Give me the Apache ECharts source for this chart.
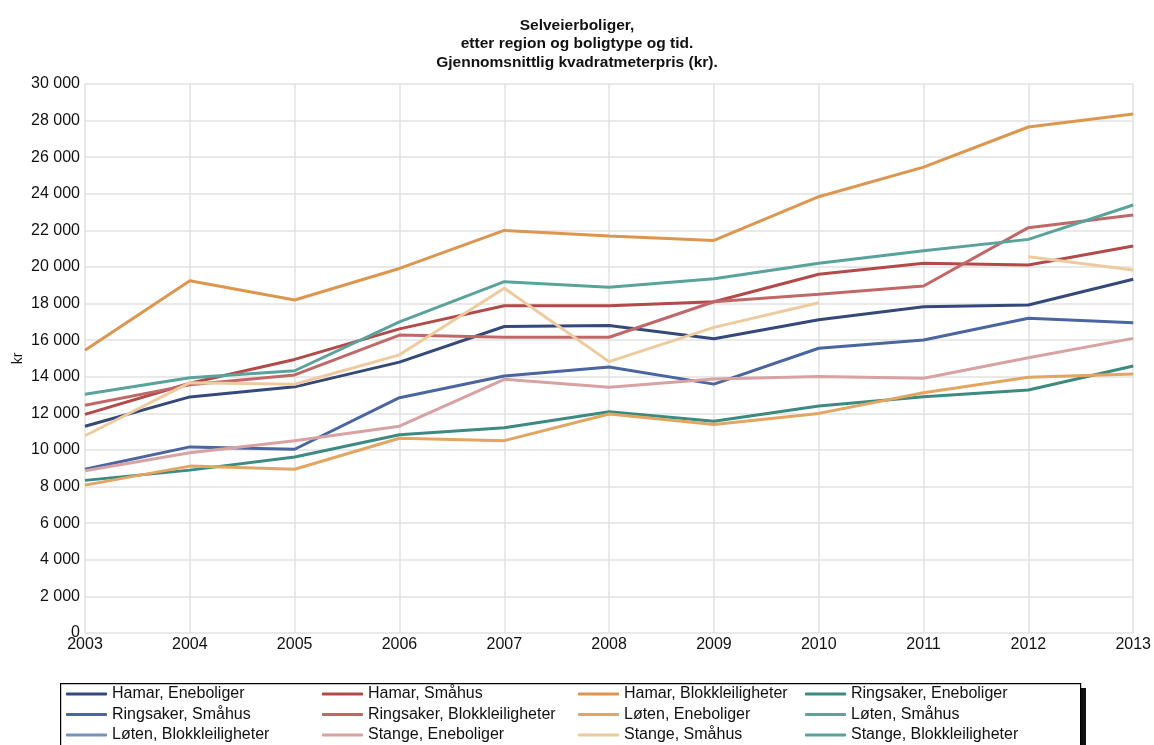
<!DOCTYPE html>
<html>
<head>
<meta charset="utf-8">
<script src="https://cdn.jsdelivr.net/npm/echarts@6/dist/echarts.min.js"></script>
<style>
  html, body { margin: 0; padding: 0; background: #fff; }
  #chart { width: 1154px; height: 745px; }
</style>
</head>
<body>
<div id="chart"></div>
<script>
// Selveierboliger — gjennomsnittlig kvadratmeterpris (kr), 2003–2013
const years = ["2003", "2004", "2005", "2006", "2007", "2008", "2009", "2010", "2011", "2012", "2013"];

const hamarEne   = [11300, 12900, 13450, 14800, 16750, 16800, 16080, 17120, 17830, 17920, 19330];
const hamarSma   = [11950, 13650, 14950, 16620, 17880, 17880, 18100, 19600, 20200, 20110, 21150];
const hamarBlokk = [15450, 19250, 18200, 19920, 22000, 21700, 21450, 23840, 25460, 27650, 28360];
const ringEne    = [8340, 8900, 9620, 10830, 11220, 12090, 11570, 12400, 12910, 13280, 14590];
const ringSma    = [8950, 10170, 10040, 12860, 14040, 14540, 13600, 15560, 16010, 17200, 16960];
const ringBlokk  = [12450, 13560, 14100, 16280, 16160, 16160, 18100, 18510, 18960, 22150, 22840];
const lotenEne   = [8080, 9120, 8950, 10640, 10510, 11970, 11390, 12000, 13130, 13970, 14150];
const lotenSma   = [null, null, null, null, null, null, null, null, null, null, null];
const lotenBlokk = [null, null, null, null, null, null, null, null, null, null, null];
const stangeEne  = [8870, 9850, 10500, 11300, 13860, 13430, 13880, 14010, 13920, 15040, 16100];
const stangeSma  = [10780, 13680, 13590, 15200, 18840, 14830, 16700, 18050, null, 20560, 19840];
const stangeBlokk= [13050, 13950, 14330, 17000, 19200, 18890, 19360, 20200, 20890, 21510, 23390];

const names = [
  "Hamar, Eneboliger", "Hamar, Småhus", "Hamar, Blokkleiligheter", "Ringsaker, Eneboliger",
  "Ringsaker, Småhus", "Ringsaker, Blokkleiligheter", "Løten, Eneboliger", "Løten, Småhus",
  "Løten, Blokkleiligheter", "Stange, Eneboliger", "Stange, Småhus", "Stange, Blokkleiligheter"
];
const values = [hamarEne, hamarSma, hamarBlokk, ringEne, ringSma, ringBlokk,
                lotenEne, lotenSma, lotenBlokk, stangeEne, stangeSma, stangeBlokk];
const colors = ["#34497a", "#b24a4a", "#dc9650", "#3d8a80", "#4a65a0", "#c06868",
                "#e2a562", "#5ca49a", "#7790bc", "#d8a2a2", "#eecb9f", "#5aa39a"];

const FONT = "Liberation Sans, Arial, sans-serif";
const fmt = v => String(v).replace(/\B(?=(\d{3})+(?!\d))/g, " ");

const chart = echarts.init(document.getElementById("chart"), null, { renderer: "canvas" });

// 4 kolonner i legenden, 3 rader hver (radvis rekkefølge)
const legendCols = [66, 322, 578, 805];
const legends = legendCols.map((x, c) => ({
  orient: "vertical",
  left: x, top: 686,
  padding: 0,
  itemWidth: 41, itemHeight: 3, itemGap: 4.5,
  icon: "roundRect",
  data: [0, 1, 2].map(r => names[r * 4 + c]),
  textStyle: { fontFamily: FONT, fontSize: 16, color: "#111", lineHeight: 16 },
  selectedMode: false
}));

chart.setOption({
  animation: false,
  color: colors,
  title: {
    text: "Selveierboliger,\netter region og boligtype og tid.\nGjennomsnittlig kvadratmeterpris (kr).",
    left: "center", top: 11,
    textStyle: { fontFamily: FONT, fontSize: 15.5, fontWeight: "bold", color: "#111", lineHeight: 18.5 }
  },
  graphic: [
    { // skygge
      type: "rect", left: 65, top: 688, z: -2, silent: true,
      shape: { width: 1021, height: 70 },
      style: { fill: "#111" }
    },
    {
      type: "rect", left: 60, top: 683, z: -1, silent: true,
      shape: { width: 1020, height: 70 },
      style: { fill: "#fff", stroke: "#000", lineWidth: 1.2 }
    }
  ],
  legend: legends,
  grid: { left: 85, right: 20, top: 84, bottom: 112, containLabel: false },
  xAxis: {
    type: "category", data: years, boundaryGap: false,
    axisLine: { show: false }, axisTick: { show: false },
    axisLabel: { fontFamily: FONT, fontSize: 16, color: "#111", margin: 4, showMinLabel: true, showMaxLabel: true },
    splitLine: { show: true, lineStyle: { color: "#e2e2e2", width: 1.5 } }
  },
  yAxis: {
    type: "value", min: 0, max: 30000, interval: 2000,
    name: "kr", nameLocation: "middle", nameGap: 60, nameRotate: 90, nameMoveOverlap: false,
    nameTextStyle: { fontFamily: FONT, fontSize: 14, color: "#111" },
    axisLine: { show: false }, axisTick: { show: false },
    axisLabel: { fontFamily: FONT, fontSize: 16, color: "#111", margin: 5, formatter: fmt },
    splitLine: { lineStyle: { color: "#e2e2e2", width: 1.5 } }
  },
  series: names.map((n, i) => ({
    name: n, type: "line", data: values[i],
    symbol: "none", connectNulls: false,
    lineStyle: { width: 3, color: colors[i] },
    itemStyle: { color: colors[i] }
  }))
});
</script>
</body>
</html>
